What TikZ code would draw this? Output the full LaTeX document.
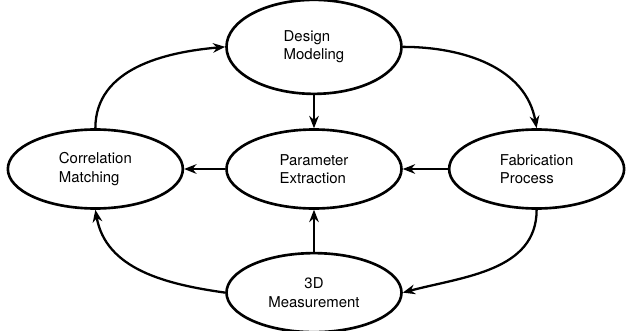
\documentclass[tikz,border=0pt]{standalone}
\usepackage{fontspec}
\setmainfont{TeX Gyre Heros}
\usepackage{tikz}
\usetikzlibrary{positioning,shapes.geometric,arrows.meta}
\tikzset{>={Stealth[length=7pt,width=5.5pt]}}
\tikzset{stage/.style={ellipse,draw,line width=1.5pt,minimum width=3.5cm,minimum height=1.58cm,inner sep=0pt,align=left,font=\fontsize{8.5}{10.5}\selectfont}}

\begin{document}
\begin{tikzpicture}[line width=1.3pt]
    \useasboundingbox (0,0) rectangle (12.6,6.6);
    % set up the nodes
    \node[stage] (P) at (6.28,3.22) {Parameter\\Extraction};
    \node[stage,left=0.82cm of P] (C) {Correlation\\Matching};
    \node[stage,right=0.9cm of P] (F) {Fabrication\\Process};
    \node[stage,minimum height=1.88cm,above=0.66cm of P] (D) {Design\\Modeling};
    \node[stage,align=center,below=0.84cm of P] (M) {3D\\Measurement};
    % draw arrows between them
    \draw[->] (D) -- (P);
    \draw[->] (M) -- (P);
    \draw[->] (F) -- (P);
    \draw[->] (P) -- (C);
    \draw[->] (C.north) to[out=90,in=185] (D.west);
    \draw[->] (D.east) to[out=0,in=100] (F.north);
    \draw[->] (F.south) to[out=-90,in=15] (M.east);
    \draw[->] (M.west) to[out=172,in=-80] (C.south);
\end{tikzpicture}
\end{document}
